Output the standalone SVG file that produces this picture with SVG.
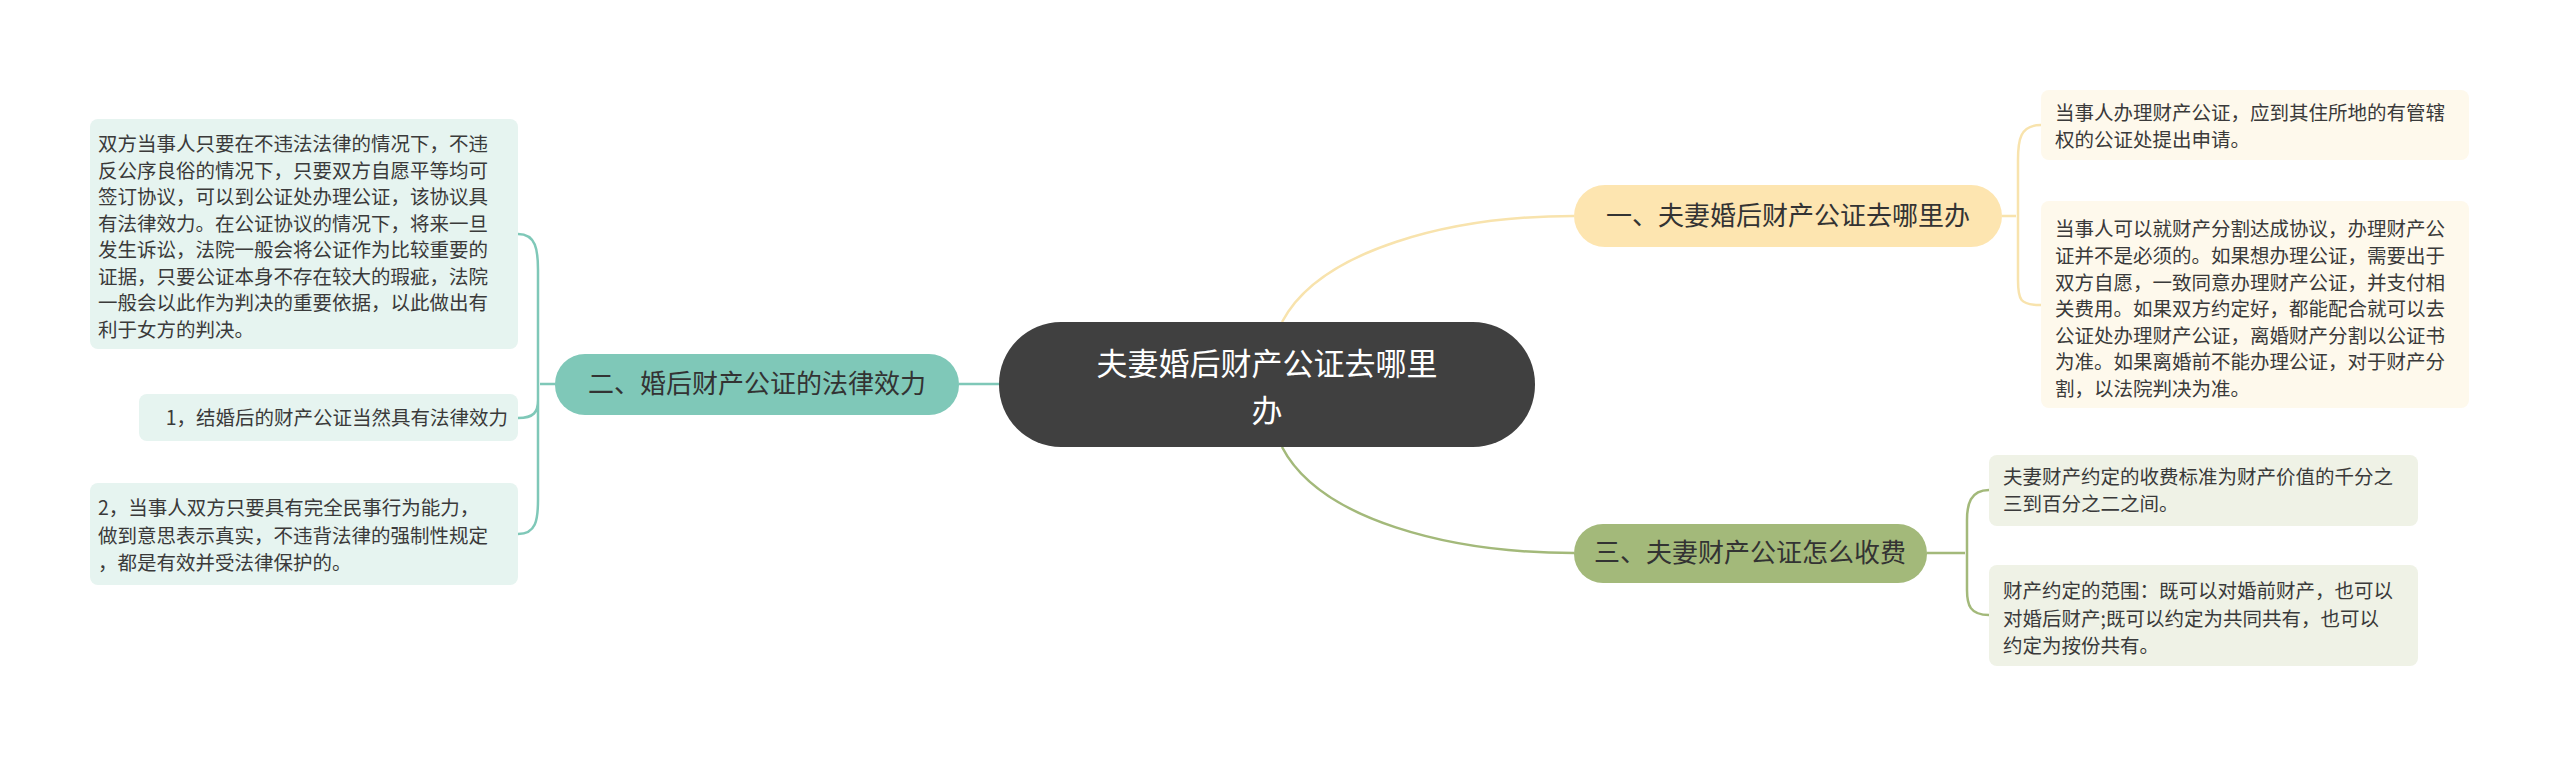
<svg xmlns="http://www.w3.org/2000/svg" width="2560" height="758" viewBox="0 0 2560 758">
<style>
text{font-family:"Noto Sans CJK SC","Noto Sans",sans-serif;}
.lf{font-size:19.5px;fill:#3a3a3a;}
.br{font-size:26px;fill:#333;}
.c{fill:none;stroke-width:2.5;}
</style>
<rect width="2560" height="758" fill="#fff"/>
<g id="connectors">
<path class="c" stroke="#f8e3ad" d="M1282,322 C1320,250 1450,216 1574,216"/>
<path class="c" stroke="#a3b97a" d="M1282,447 C1320,520 1450,553 1574,553"/>
<path class="c" stroke="#7fc8b8" d="M999,384 L959,384"/>
<path class="c" stroke="#f8e3ad" d="M2002,216 L2016,216 M2041,125 C2020,125 2018,140 2018,160 L2018,280 C2018,300 2020,305 2041,305"/>
<path class="c" stroke="#7fc8b8" d="M555,384 L540,384 M518,234 C536,234 538,250 538,270 L538,500 C538,520 536,534 518,534 M538,400 C538,412 534,418 518,418"/>
<path class="c" stroke="#a3b97a" d="M1927,553 L1965,553 M1989,490 C1970,490 1967,505 1967,520 L1967,590 C1967,605 1970,615 1989,615"/>
</g>
<g id="center">
<rect x="999" y="322" width="536" height="125" rx="62" fill="#404040"/>
<text x="1267" y="375" text-anchor="middle" font-size="31" fill="#fff">夫妻婚后财产公证去哪里</text>
<text x="1267" y="422" text-anchor="middle" font-size="31" fill="#fff">办</text>
</g>
<g id="b1">
<rect x="1574" y="185" width="428" height="62" rx="31" fill="#fde5b0"/>
<text class="br" x="1788" y="225" text-anchor="middle">一、夫妻婚后财产公证去哪里办</text>
</g>
<g id="l1a">
<rect x="2041" y="90" width="428" height="70" rx="8" fill="#fef9ec"/>
<text class="lf" x="2055" y="120">当事人办理财产公证，应到其住所地的有管辖</text>
<text class="lf" x="2055" y="147">权的公证处提出申请。</text>
</g>
<g id="l1b">
<rect x="2041" y="201" width="428" height="207" rx="8" fill="#fef9ec"/>
<text class="lf" x="2055" y="236">当事人可以就财产分割达成协议，办理财产公</text>
<text class="lf" x="2055" y="263">证并不是必须的。如果想办理公证，需要出于</text>
<text class="lf" x="2055" y="290">双方自愿，一致同意办理财产公证，并支付相</text>
<text class="lf" x="2055" y="316">关费用。如果双方约定好，都能配合就可以去</text>
<text class="lf" x="2055" y="343">公证处办理财产公证，离婚财产分割以公证书</text>
<text class="lf" x="2055" y="369">为准。如果离婚前不能办理公证，对于财产分</text>
<text class="lf" x="2055" y="396">割，以法院判决为准。</text>
</g>
<g id="b2">
<rect x="555" y="354" width="404" height="61" rx="30" fill="#7fc8b8"/>
<text class="br" x="757" y="393" text-anchor="middle">二、婚后财产公证的法律效力</text>
</g>
<g id="l2a">
<rect x="90" y="119" width="428" height="230" rx="8" fill="#e6f4f0"/>
<text class="lf" x="98" y="151">双方当事人只要在不违法法律的情况下，不违</text>
<text class="lf" x="98" y="178">反公序良俗的情况下，只要双方自愿平等均可</text>
<text class="lf" x="98" y="204">签订协议，可以到公证处办理公证，该协议具</text>
<text class="lf" x="98" y="231">有法律效力。在公证协议的情况下，将来一旦</text>
<text class="lf" x="98" y="257">发生诉讼，法院一般会将公证作为比较重要的</text>
<text class="lf" x="98" y="284">证据，只要公证本身不存在较大的瑕疵，法院</text>
<text class="lf" x="98" y="310">一般会以此作为判决的重要依据，以此做出有</text>
<text class="lf" x="98" y="337">利于女方的判决。</text>
</g>
<g id="l2b">
<rect x="139" y="394" width="379" height="47" rx="8" fill="#e6f4f0"/>
<text class="lf" x="508" y="425" text-anchor="end">1，结婚后的财产公证当然具有法律效力</text>
</g>
<g id="l2c">
<rect x="90" y="483" width="428" height="102" rx="8" fill="#e6f4f0"/>
<text class="lf" x="98" y="515">2，当事人双方只要具有完全民事行为能力，</text>
<text class="lf" x="98" y="543">做到意思表示真实，不违背法律的强制性规定</text>
<text class="lf" x="98" y="570">，都是有效并受法律保护的。</text>
</g>
<g id="b3">
<rect x="1574" y="524" width="353" height="59" rx="29" fill="#a3b97a"/>
<text class="br" x="1750" y="562" text-anchor="middle">三、夫妻财产公证怎么收费</text>
</g>
<g id="l3a">
<rect x="1989" y="455" width="429" height="71" rx="8" fill="#eff2e6"/>
<text class="lf" x="2003" y="484">夫妻财产约定的收费标准为财产价值的千分之</text>
<text class="lf" x="2003" y="511">三到百分之二之间。</text>
</g>
<g id="l3b">
<rect x="1989" y="565" width="429" height="101" rx="8" fill="#eff2e6"/>
<text class="lf" x="2003" y="598">财产约定的范围：既可以对婚前财产，也可以</text>
<text class="lf" x="2003" y="626">对婚后财产;既可以约定为共同共有，也可以</text>
<text class="lf" x="2003" y="653">约定为按份共有。</text>
</g>
</svg>
